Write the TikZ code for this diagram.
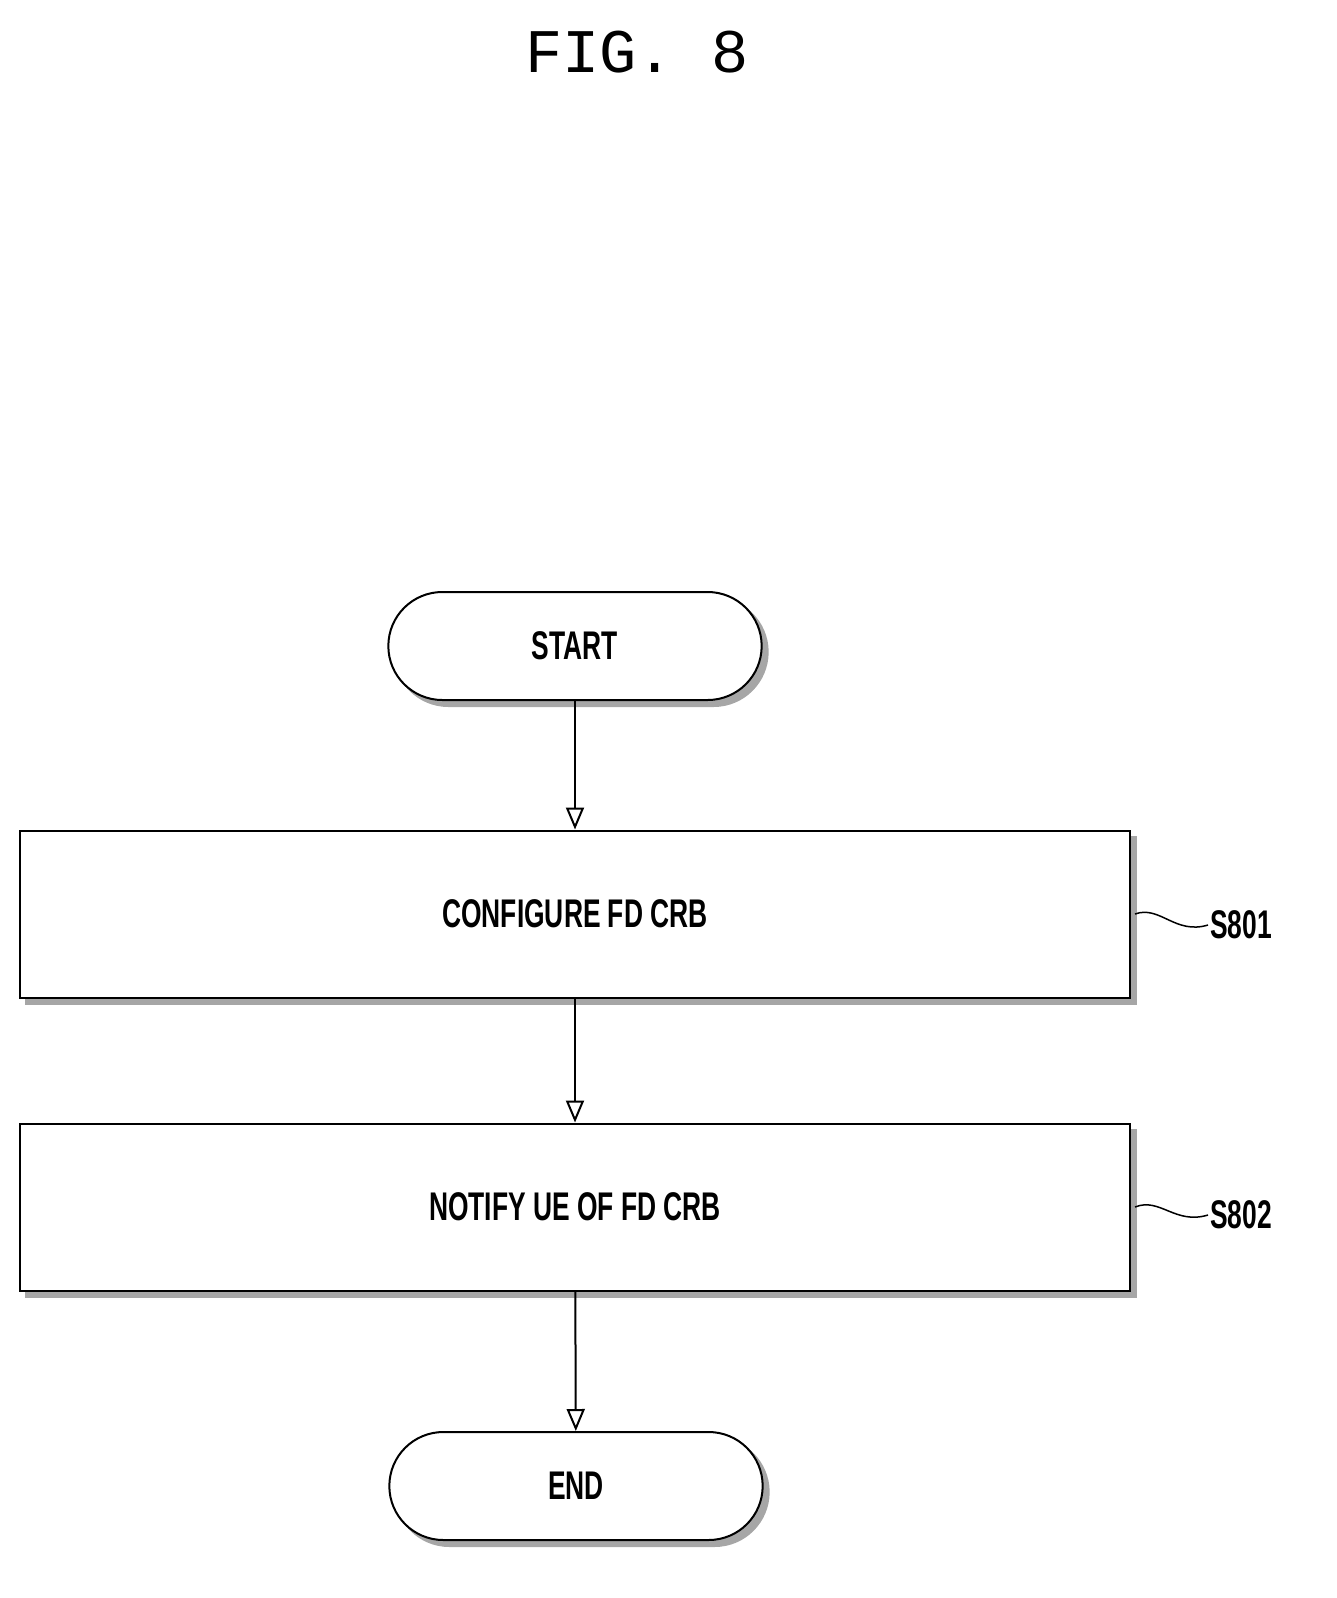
\documentclass[tikz,border=0pt]{standalone}
\usepackage{fontspec}
\setmainfont{Liberation Sans}
\newfontfamily\titlefont{Liberation Mono}
\usetikzlibrary{shapes.misc,arrows.meta,decorations.pathmorphing}
\begin{document}
\begin{tikzpicture}[x=1pt,y=-1pt,
  sh/.style={draw,line width=2pt,fill=white,
    preaction={fill=gray!70,draw=gray!70,transform canvas={shift={(6pt,-6pt)}}}},
  term/.style={sh,rounded rectangle,minimum width=380pt,minimum height=108pt},
  stepbox/.style={sh,rectangle,minimum width=1110pt,minimum height=167pt},
  txt/.style={font=\bfseries\fontsize{40}{44}\selectfont,xscale=0.66},
  arr/.style={line width=2pt,-{Triangle[open,length=22pt,width=18pt]}}]
\useasboundingbox (0,0) rectangle (1336,1598);
\node[font=\titlefont\fontsize{62}{66}\selectfont] (title) at (637,52) {FIG. 8};
\node[term] (start) at (575,646) {};
\node[txt] at (start) {START};
\node[stepbox] (b1) at (575,914) {};
\node[txt] at (b1) {CONFIGURE FD CRB};
\node[stepbox] (b2) at (575,1207) {};
\node[txt] at (b2) {NOTIFY UE OF FD CRB};
\node[term] (end) at (576,1486) {};
\node[txt] at (end) {END};
\node[txt,anchor=west] (s1) at (1208,925) {S801};
\node[txt,anchor=west] (s2) at (1208,1215) {S802};
\draw[arr] (start) -- (b1);
\draw[arr] (b1) -- (b2);
\draw[arr] (b2) -- (end);
\draw[line width=1.5pt] (b1.east) ++(4,0) coordinate (c1) .. controls (1160,905) and (1175,935) .. (s1.west);
\draw[line width=1.5pt] (b2.east) ++(4,0) coordinate (c2) .. controls (1160,1197) and (1175,1225) .. (s2.west);
\end{tikzpicture}
\end{document}
